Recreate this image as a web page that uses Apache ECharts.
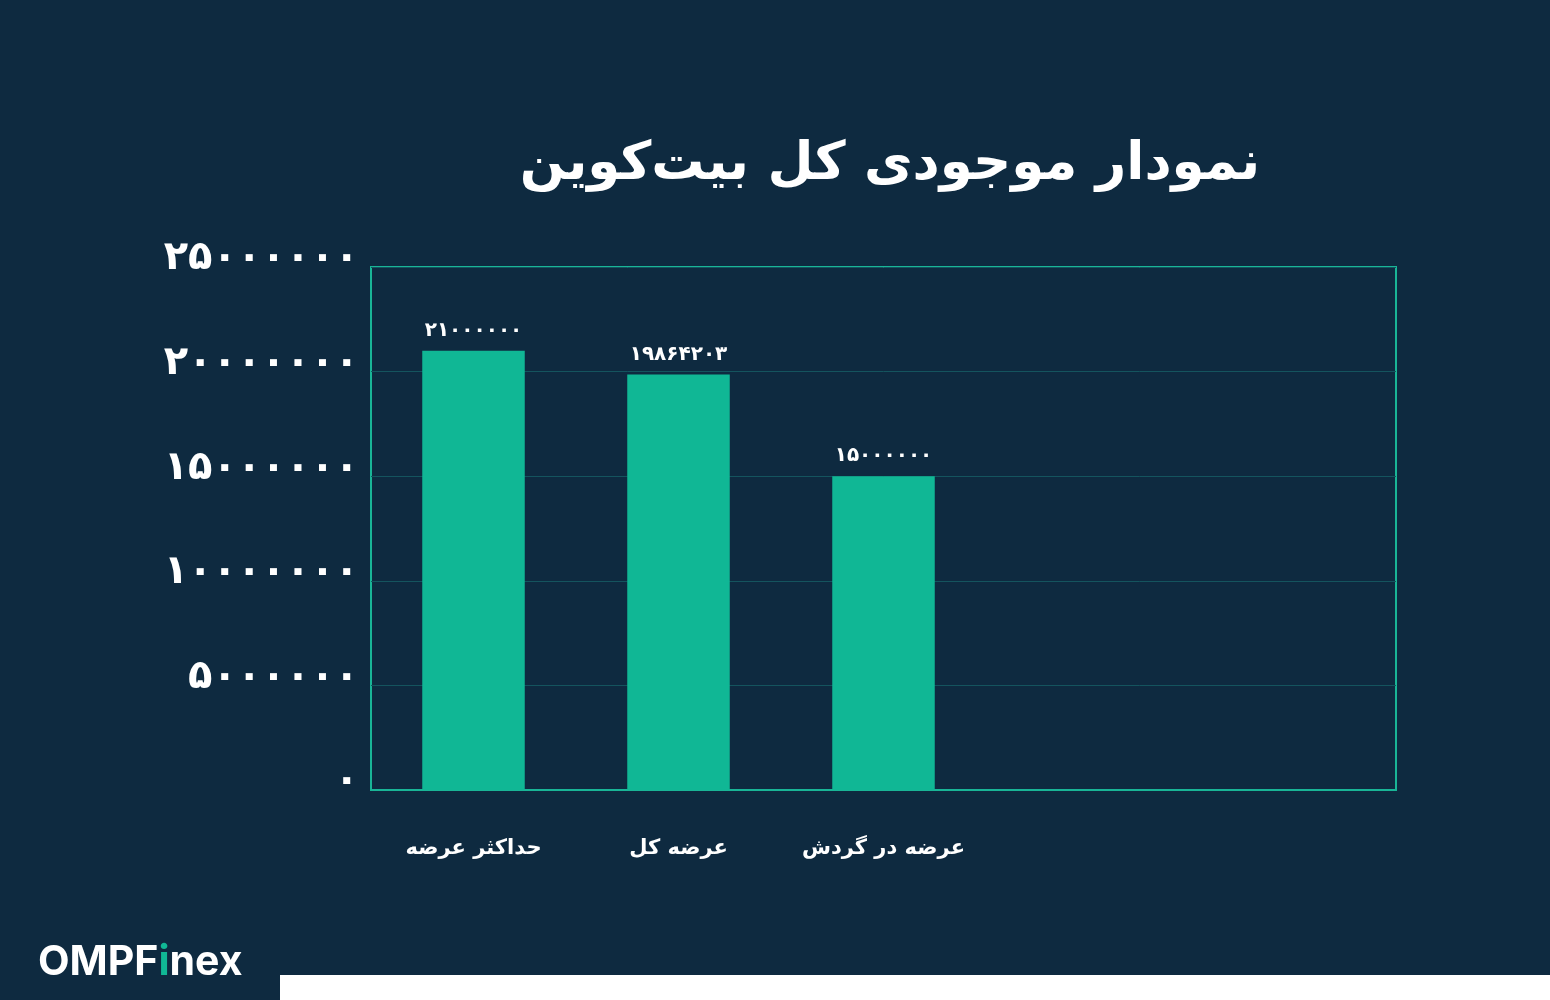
<!DOCTYPE html>
<html><head><meta charset="utf-8">
<script src="https://cdn.jsdelivr.net/npm/echarts@6/dist/echarts.min.js"></script>
<style>html,body{margin:0;padding:0;background:#0e2a40;}#c{width:1550px;height:1000px;}</style>
</head><body><div id="c"></div>
<script>
const categories = ['حداکثر عرضه', 'عرضه کل', 'عرضه در گردش', '', ''];
const supplyValues = [21000000, 19864203, 15000000, null, null];
const yTicks = [0, 5000000, 10000000, 15000000, 20000000, 25000000];
const titleText = 'نمودار موجودی کل بیت‌کوین';

const fa = n => String(n).replace(/[0-9]/g, d => '۰۱۲۳۴۵۶۷۸۹'[d]);
const FONT = '"DejaVu Sans", sans-serif';

const chart = echarts.init(document.getElementById('c'));
chart.setOption({
  backgroundColor: '#0e2a40',
  animation: false,
  grid: { left: 371, right: 154, top: 267, bottom: 210, show: true, borderColor: '#19b597', borderWidth: 2, containLabel: false },
  xAxis: {
    type: 'category', data: categories,
    axisLine: { show: true, lineStyle: { color: '#19b597', width: 2 } },
    axisTick: { show: false },
    axisLabel: { interval: 0, color: '#ffffff', fontFamily: FONT, fontWeight: 'bold', fontSize: 21, margin: 48 }
  },
  yAxis: {
    type: 'value', min: yTicks[0], max: yTicks[yTicks.length - 1], interval: yTicks[1] - yTicks[0],
    axisLine: { show: false }, axisTick: { show: false },
    splitLine: { lineStyle: { color: '#14545e', width: 1 } },
    axisLabel: { color: '#ffffff', fontFamily: FONT, fontWeight: 'bold', fontSize: 40, margin: 12,
      verticalAlign: 'bottom', lineHeight: 16, formatter: v => fa(v) }
  },
  series: [{
    type: 'bar', data: supplyValues, barWidth: '50%',
    itemStyle: { color: '#10b795' },
    label: { show: true, position: 'top', distance: 10, color: '#ffffff', fontFamily: FONT, fontWeight: 'bold', fontSize: 20,
      formatter: p => fa(p.value) }
  }],
  graphic: [
    { type: 'text', x: 890, y: 165, style: { text: titleText, fill: '#ffffff', font: 'bold 53px ' + FONT, textAlign: 'center', textVerticalAlign: 'middle' } },
    { type: 'rect', shape: { x: 280, y: 975, width: 1270, height: 25 }, style: { fill: '#ffffff' } },
    { type: 'text', x: 38, y: 963, style: {
        text: '{w|OMPF}{g|i}{w|nex}', textVerticalAlign: 'middle',
        rich: { w: { fill: '#ffffff', font: 'bold 41px Inter, Roboto, sans-serif' }, g: { fill: '#10b795', font: 'bold 41px Inter, Roboto, sans-serif' } } } }
  ]
});
</script></body></html>
